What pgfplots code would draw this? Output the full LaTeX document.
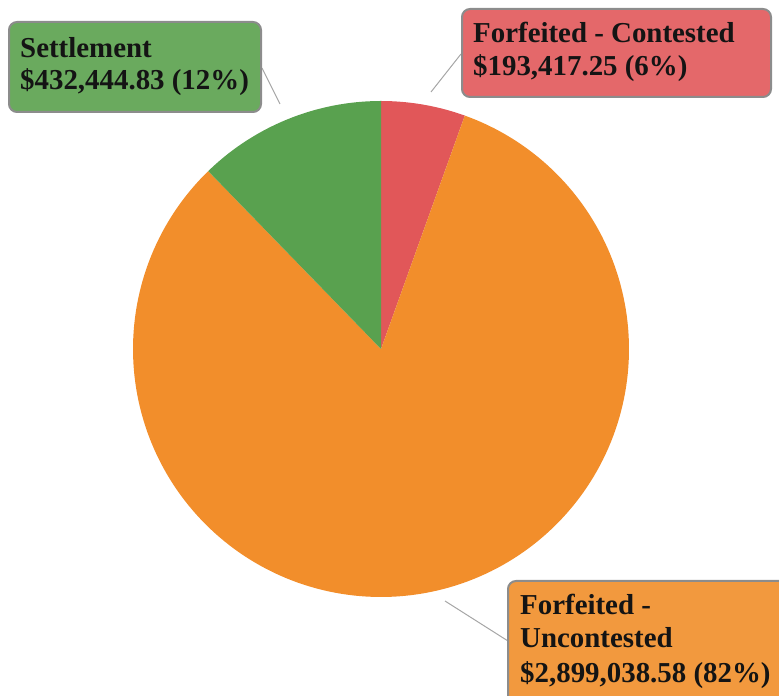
\documentclass[border=0pt]{standalone}
\usepackage{pgfplots}
\pgfplotsset{compat=1.18}
\usepackage{fontspec}
\setmainfont{Liberation Serif}
\definecolor{pRed}{HTML}{E15759}
\definecolor{pOrange}{HTML}{F28E2B}
\definecolor{pGreen}{HTML}{59A14F}
\definecolor{bRed}{HTML}{E4686A}
\definecolor{bOrange}{HTML}{F2993E}
\definecolor{bGreen}{HTML}{6AAA5E}
\definecolor{bBorder}{HTML}{8C8C8C}
\definecolor{leader}{HTML}{A6A6A6}
% data (USD)
\def\vContested{193417.25}
\def\vUncontested{2899038.58}
\def\vSettlement{432444.83}
\edef\vTotal{\fpeval{\vContested+\vUncontested+\vSettlement}}
\edef\aA{\fpeval{90-360*\vContested/\vTotal}}
\edef\aB{\fpeval{\aA-360*\vUncontested/\vTotal}}
\def\cx{381}
\def\cy{347}
\def\rr{248}
\begin{document}
\begin{tikzpicture}
\begin{axis}[
  scale only axis, width=779bp, height=696bp,
  xmin=0, xmax=779, ymin=0, ymax=696,
  hide axis, clip=true,
]
\addplot[fill=pRed, draw=none, domain=\aA:90, samples=40, variable=\t]
  ({\cx+\rr*cos(\t)}, {\cy+\rr*sin(\t)}) -- (axis cs:\cx,\cy) -- cycle;
\addplot[fill=pOrange, draw=none, domain=\aB:\aA, samples=200, variable=\t]
  ({\cx+\rr*cos(\t)}, {\cy+\rr*sin(\t)}) -- (axis cs:\cx,\cy) -- cycle;
\addplot[fill=pGreen, draw=none, domain=-270:\aB, samples=50, variable=\t]
  ({\cx+\rr*cos(\t)}, {\cy+\rr*sin(\t)}) -- (axis cs:\cx,\cy) -- cycle;
% leader lines
\draw[leader, line width=1bp] (axis cs:262,628) -- (axis cs:280,592);
\draw[leader, line width=1bp] (axis cs:431,604) -- (axis cs:461,642);
\draw[leader, line width=1bp] (axis cs:445,95) -- (axis cs:508,55);
% boxes
\draw[rounded corners=8bp, fill=bGreen, draw=bBorder, line width=2bp]
  (axis cs:9,674) rectangle (axis cs:261,584);
\draw[rounded corners=8bp, fill=bRed, draw=bBorder, line width=2bp]
  (axis cs:462,687) rectangle (axis cs:771,599);
\draw[rounded corners=8bp, fill=bOrange, draw=bBorder, line width=2bp]
  (axis cs:508,115) rectangle (axis cs:800,-20);
% labels
\begin{scope}[every node/.style={anchor=base west, inner sep=0pt, font=\fontsize{29}{32}\selectfont\bfseries, text=black!92}]
\node at (axis cs:20,638) {Settlement};
\node at (axis cs:20,606) {\$432,444.83 (12\%)};
\node at (axis cs:473,653) {Forfeited - Contested};
\node at (axis cs:473,620) {\$193,417.25 (6\%)};
\node at (axis cs:520,81) {Forfeited -};
\node at (axis cs:520,48) {Uncontested};
\node at (axis cs:520,14) {\$2,899,038.58 (82\%)};
\end{scope}
\end{axis}
\pgfresetboundingbox
\path (current axis.south west) rectangle (current axis.north east);
\end{tikzpicture}
\end{document}
